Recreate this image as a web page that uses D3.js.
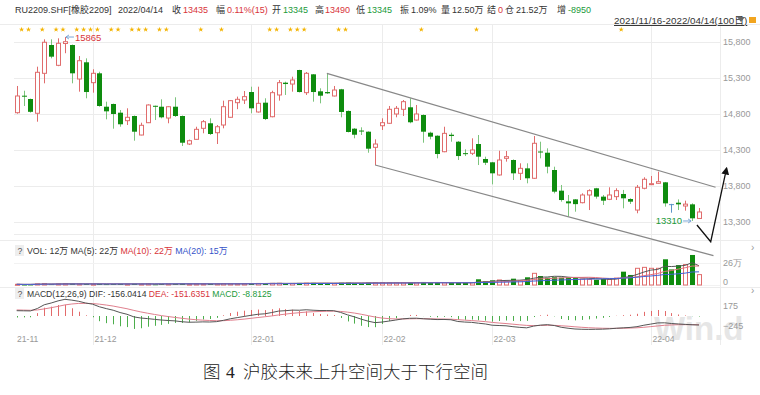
<!DOCTYPE html>
<html>
<head>
<meta charset="utf-8">
<script src="https://cdn.jsdelivr.net/npm/d3@7"></script>
<style>
  body { margin: 0; background: #fff; }
  svg { display: block; font-family: "Liberation Sans", "Noto Sans CJK SC", sans-serif; }
</style>
</head>
<body>
<svg id="chart" width="760" height="395"></svg>
<script>
// ---- Data ----
const opens = [14814,15050,15004,14806,15361,15754,15472,15775,15754,15282,15514,15231,15361,14897,14935,14814,14703,14768,14504,14675,
  14910,14897,14740,14897,14768,14379,14444,14597,14667,14536,14643,14750,14953,14990,15101,14824,14953,14758,15060,15231,
  15212,15407,15092,15347,15111,15101,15046,15139,14838,14592,14566,14550,14333,14633,14667,14796,14861,14889,14712,14782,
  14536,14494,14272,14508,14411,14252,14250,14379,14171,14125,13949,14180,14157,13972,14041,13903,14275,14258,14018,13731,
  13583,13610,13564,13671,13764,13648,13611,13648,13685,13615,13462,13764,13820,13833,13847,13544,13564,13518,13541,13345];
const highs = [15185,15119,15010,15453,15833,15833,15847,15865,15760,15601,15569,15417,15383,14967,14940,14851,14875,14775,14675,14930,
  14912,15000,14905,15028,14775,14440,14619,14712,14736,14643,14981,14990,15037,15115,15175,15175,15014,15119,15268,15245,
  15314,15410,15379,15350,15153,15361,15185,15145,14845,14600,14611,14555,14444,14736,14907,14907,14990,15014,14921,14790,
  14550,14500,14619,14536,14420,14305,14458,14504,14203,14130,14286,14282,14165,14111,14111,14490,14411,14319,14064,13810,
  13671,13615,13694,13750,13770,13671,13778,13764,13741,13625,13810,13917,13935,13995,13852,13548,13610,13592,13555,13490];
const lows = [14800,14907,14815,14689,15222,15569,15460,15640,15222,15106,15014,15092,14897,14722,14592,14619,14643,14425,14500,14670,
  14712,14736,14667,14755,14351,14365,14440,14528,14504,14379,14597,14745,14863,14935,14806,14815,14712,14750,14981,15060,
  15106,15095,15060,14967,14944,15075,15040,14750,14540,14458,14504,14258,14087,14574,14660,14750,14768,14667,14705,14397,
  14444,14180,14265,14411,14157,14212,14226,14087,14087,13819,13940,14134,13879,13879,13833,13895,14180,13972,13694,13578,
  13369,13439,13555,13462,13620,13532,13600,13601,13486,13546,13417,13750,13815,13828,13509,13425,13462,13453,13310,13345];
const closes = [15046,15040,14826,15375,15792,15592,15778,15800,15361,15536,15101,15361,14907,14833,14796,14653,14750,14550,14639,14921,
  14903,14750,14897,14768,14397,14425,14583,14689,14518,14619,14897,14981,15000,15037,14875,14944,14726,15092,15231,15212,
  15268,15101,15361,15101,15050,15083,15129,14824,14546,14508,14562,14314,14379,14675,14861,14875,14967,14681,14796,14550,
  14481,14240,14527,14490,14212,14248,14296,14203,14119,13972,14157,14203,13972,14041,13903,14389,14270,14064,13717,13601,
  13555,13544,13671,13731,13648,13592,13671,13731,13625,13578,13778,13889,13828,13856,13555,13544,13541,13544,13347,13435];
// volume, 万手
const volumes = [0.8,0.6,0.7,1.3,1.6,1.1,1.2,1.5,1.6,1.2,1.3,
  1.0,1.4,1.1,1.2,1.3,1.0,1.5,1.1,1.4,0.9,1.3,1.2,1.4,1.8,1.0,1.3,1.2,1.5,1.3,1.6,1.4,1.3,1.5,
  2.0,1.8,2.1,1.9,2.0,1.6,1.8,2.4,2.1,2.5,2.0,1.9,1.8,2.6,2.8,2.3,1.9,2.7,2.6,
  2.7,2.5,2.4,2.6,3.0,2.5,3.5,2.6,3.0,2.5,2.4,3.0,2.3,2.6,
  6.6,4.3,5.4,5.8,4.3,7.3,5.0,8.9,13.5,10.4,8.5,9.0,8.5,9.0,8.0,7.0,6.5,6.0,7.0,6.5,8.0,15.4,11.6,
  19.3,20.4,19.3,19.3,29.7,18.0,23.0,23.6,34.7,12.0];
const difs = [92,90,88,130,195,225,262,289,275,255,225,205,160,128,100,60,30,-15,-35,-45,
  -58,-70,-78,-85,-100,-108,-106,-102,-104,-98,-75,-48,-28,-8,12,30,38,60,85,92,
  102,100,108,100,95,95,92,62,20,-15,-55,-90,-115,-105,-88,-70,-50,-40,-38,-48,
  -55,-62,-60,-65,-95,-105,-110,-125,-138,-160,-165,-170,-185,-197,-205,-175,-158,-150,-165,-195,
  -212,-225,-230,-232,-230,-228,-222,-212,-205,-198,-185,-160,-140,-120,-118,-130,-138,-145,-152,-156.0414];
const deas = [105,102,99,105,123,144,167,192,208,218,219,216,205,190,172,149,126,97,71,48,
  27,7,-10,-25,-40,-54,-64,-72,-78,-82,-81,-74,-65,-54,-40,-26,-13,1,18,33,
  47,57,68,74,78,82,84,79,67,51,30,6,-18,-36,-46,-51,-51,-49,-47,-47,
  -48,-51,-53,-55,-63,-72,-79,-88,-98,-111,-122,-131,-142,-153,-163,-166,-164,-161,-162,-169,
  -177,-187,-196,-203,-208,-212,-214,-214,-212,-209,-204,-196,-184,-172,-161,-155,-151,-150,-150,-151.6351];
const macdBars = [-26,-24,-22,50,144,162,190,194,134,74,12,-22,-90,-124,-144,-178,-192,-224,-212,-186,
  -170,-154,-136,-120,-120,-108,-84,-60,-52,-32,12,52,74,92,104,112,102,118,134,118,
  110,86,80,52,34,26,16,-34,-94,-132,-170,-192,-194,-138,-84,-38,2,18,18,-2,
  -14,-22,-14,-20,-64,-66,-62,-74,-80,-98,-86,-78,-86,-88,-84,-18,12,22,-6,-52,
  -70,-76,-68,-58,-44,-32,-16,4,14,22,38,72,88,104,86,50,26,10,-4,-8.8125];

const monthLabels = ["21-11", "21-12", "22-01", "22-02", "22-03", "22-04"];
const monthStarts = [0, 11, 34, 53, 69, 92];
const priceTicks = [13300, 13800, 14300, 14800, 15300, 15800];
const volTicks = [0, 26];
const volTickLabels = ["0", "26万"];
const macdTicks = [-245, 175];
const starDays = [1,2,4,6,7,9,10,11,12,14,15,17,18,19,21,22,27,30,37,38,40,41,42,47,48,59,67,88];
// drawn lines, as [day, price]
const upperTrend = [[45, 15361], [101.4, 13778]];
const lowerTrend = [[52, 14087], [101.1, 12828]];
const arrowPath = [[98.7, 13254], [100.7, 13022], [103, 14042]];
const highMark = { day: 7, value: 15865 };
const lowMark = { day: 98, value: 13310 };

// ---- Scales ----
const x = d3.scaleLinear().domain([0, 99]).range([16.7, 699]);
const yPrice = d3.scaleLinear().domain([13300, 15800]).range([221.7, 41.7]);
const yVol = d3.scaleLinear().domain([0, 26]).range([285, 262.5]);
const yMacd = d3.scaleLinear().domain([0, 175]).range([316, 305.9]);

const RED = "#e06c6c", GREEN = "#0e8c0e", GREEN_WICK = "#7cc47c", FLAT = "#5b93c7";
const days = d3.range(closes.length);
const dir = i => closes[i] > opens[i] ? "up" : (closes[i] < opens[i] ? "down" : "flat");
const px = i => Math.round(x(i)) + 0.5;

const svg = d3.select("#chart");

// ---- frame / grid ----
const grid = svg.append("g").attr("stroke", "#ececec").attr("stroke-width", 1);
grid.append("line").attr("x1", 0).attr("x2", 760).attr("y1", 24.5).attr("y2", 24.5);
grid.append("line").attr("x1", 0).attr("x2", 760).attr("y1", 240.5).attr("y2", 240.5);
grid.append("line").attr("x1", 0).attr("x2", 760).attr("y1", 287.5).attr("y2", 287.5);
grid.append("line").attr("x1", 720.5).attr("x2", 720.5).attr("y1", 25).attr("y2", 345);
grid.selectAll(".hg").data(priceTicks).join("line")
  .attr("x1", 14).attr("x2", 720)
  .attr("y1", d => Math.round(yPrice(d)) + 0.5).attr("y2", d => Math.round(yPrice(d)) + 0.5);
grid.append("line").attr("x1", 14).attr("x2", 720).attr("y1", 234.5).attr("y2", 234.5);
grid.selectAll(".vg").data(monthStarts.slice(1)).join("line")
  .attr("x1", d => px(d)).attr("x2", d => px(d)).attr("y1", 25).attr("y2", 345);
grid.selectAll(".vt").data(volTicks).join("line")
  .attr("x1", 14).attr("x2", 720)
  .attr("y1", d => Math.round(yVol(d)) + 0.5).attr("y2", d => Math.round(yVol(d)) + 0.5)
  .attr("stroke", "#f2f2f2");

// watermark
svg.append("text").attr("x", 654).attr("y", 340).attr("font-size", 33).attr("font-weight", "bold")
  .attr("fill", "#e6e6e6").text("Win.d");

// ---- header ----
const header = svg.append("text").attr("y", 13).attr("font-size", 9).attr("fill", "#333");
[
  ["RU2209.SHF[橡胶2209]", 15, "#333"], ["2022/04/14", 118, "#333"],
  ["收", 172, "#333"], ["13435", 183, "#d8343a"],
  ["幅", 216, "#333"], ["0.11%(15)", 227, "#d8343a"],
  ["开", 272, "#333"], ["13345", 283, "#1b9a3a"],
  ["高", 315, "#333"], ["13490", 325, "#d8343a"],
  ["低", 356, "#333"], ["13345", 367, "#1b9a3a"],
  ["振", 400, "#333"], ["1.09%", 411, "#333"],
  ["量", 441, "#333"], ["12.50万", 452, "#333"],
  ["结", 487, "#333"], ["0", 498, "#d8343a"],
  ["仓", 505, "#333"], ["21.52万", 516, "#333"],
  ["增", 557, "#333"], ["-8950", 568, "#1b9a3a"]
].forEach(([t, xx, c]) => header.append("tspan").attr("x", xx).attr("fill", c).text(t));

svg.append("text").attr("x", 614).attr("y", 24).attr("font-size", 9.8).attr("fill", "#333")
  .attr("text-decoration", "underline").text("2021/11/16-2022/04/14(100日)");
svg.append("path").attr("d", "M737,17 L745,17 L741,22 Z").attr("fill", "#666");
svg.append("rect").attr("x", 749).attr("y", 17).attr("width", 7).attr("height", 6).attr("fill", "#f2a51f");

// stars
svg.append("g").selectAll("path").data(starDays).join("path")
  .attr("transform", d => `translate(${x(d) - 2},29.5)`)
  .attr("d", d3.symbol(d3.symbolStar, 9))
  .attr("fill", "#f3b300");

// ---- price axis ----
const priceAxis = svg.append("g").attr("transform", "translate(720,0)")
  .call(d3.axisRight(yPrice).tickValues(priceTicks).tickSize(0).tickPadding(3));
priceAxis.select(".domain").remove();
priceAxis.selectAll("text").attr("font-size", 9).attr("fill", "#999")
  .attr("font-family", "'Liberation Sans', sans-serif");

// ---- candles ----
const candles = svg.append("g");
candles.selectAll(".wick").data(days).join("line")
  .attr("x1", px).attr("x2", px)
  .attr("y1", i => yPrice(highs[i])).attr("y2", i => yPrice(lows[i]))
  .attr("stroke", i => dir(i) === "up" ? RED : (dir(i) === "down" ? GREEN_WICK : FLAT))
  .attr("stroke-width", 1);
candles.selectAll(".body").data(days).join("rect")
  .attr("x", i => dir(i) === "up" ? Math.round(x(i)) - 1.5 : Math.round(x(i)) - 2)
  .attr("width", i => dir(i) === "up" ? 4 : 5)
  .attr("y", i => yPrice(Math.max(opens[i], closes[i])))
  .attr("height", i => Math.max(1, Math.abs(yPrice(opens[i]) - yPrice(closes[i]))))
  .attr("fill", i => dir(i) === "up" ? "#fff" : (dir(i) === "down" ? GREEN : FLAT))
  .attr("stroke", i => dir(i) === "up" ? RED : "none")
  .attr("stroke-width", 1);

// high / low marks
const hx = x(highMark.day), hy = yPrice(highMark.value);
svg.append("path").attr("d", `M${hx + 1},${hy} L${hx + 9},${hy} M${hx + 1},${hy} l3,-2 M${hx + 1},${hy} l3,2`)
  .attr("stroke", "#7aa7d6").attr("fill", "none");
svg.append("text").attr("x", hx + 10).attr("y", hy + 3.5).attr("font-size", 9.5).attr("fill", "#d8343a").text(highMark.value);
const lx = x(lowMark.day), ly = yPrice(lowMark.value);
svg.append("path").attr("d", `M${lx - 9},${ly} L${lx - 1},${ly} l-3,-2 M${lx - 1},${ly} l-3,2`)
  .attr("stroke", "#7aa7d6").attr("fill", "none");
svg.append("text").attr("x", lx - 10).attr("y", ly + 3.5).attr("text-anchor", "end")
  .attr("font-size", 9.5).attr("fill", "#1b9a3a").text(lowMark.value);

// trend channel + arrow
const trendLine = d3.line().x(d => x(d[0])).y(d => yPrice(d[1]));
svg.append("path").attr("d", trendLine(upperTrend)).attr("stroke", "#888").attr("stroke-width", 1.2).attr("fill", "none");
svg.append("path").attr("d", trendLine(lowerTrend)).attr("stroke", "#888").attr("stroke-width", 1.2).attr("fill", "none");
svg.append("defs").append("marker").attr("id", "head").attr("viewBox", "0 0 10 10")
  .attr("refX", 8).attr("refY", 5).attr("markerWidth", 6).attr("markerHeight", 6).attr("orient", "auto")
  .append("path").attr("d", "M0,0 L10,5 L0,10 Z").attr("fill", "#111");
svg.append("path").attr("d", trendLine(arrowPath)).attr("stroke", "#111").attr("stroke-width", 1.3)
  .attr("fill", "none").attr("marker-end", "url(#head)");

// ---- volume panel ----
svg.append("rect").attr("x", 15).attr("y", 245).attr("width", 9).attr("height", 11).attr("fill", "#eeeeee");
svg.append("text").attr("x", 17.5).attr("y", 253.5).attr("font-size", 8.8).attr("fill", "#555").text("?");
const volHead = svg.append("text").attr("x", 27).attr("y", 253.5).attr("font-size", 8.8).attr("fill", "#333");
[["VOL: 12万 ", "#333"], ["MA(5): 22万 ", "#333"], ["MA(10): 22万 ", "#d8343a"], ["MA(20): 15万", "#3553c9"]]
  .forEach(([t, c]) => volHead.append("tspan").attr("fill", c).text(t));
svg.append("text").attr("x", 751).attr("y", 251).attr("font-size", 10).attr("fill", "#999").text("›");

const vols = svg.append("g");
vols.selectAll("rect").data(days).join("rect")
  .attr("x", i => dir(i) === "up" ? Math.round(x(i)) - 1.5 : Math.round(x(i)) - 2)
  .attr("width", i => dir(i) === "up" ? 4 : 5)
  .attr("y", i => yVol(volumes[i]))
  .attr("height", i => Math.max(1, yVol(0) - yVol(volumes[i])))
  .attr("fill", i => dir(i) === "up" ? "#fff" : GREEN)
  .attr("stroke", i => dir(i) === "up" ? RED : "none");

// moving averages of volume
const maOf = n => days.map(i => d3.mean(volumes.slice(Math.max(0, i - n + 1), i + 1)));
const volLine = d3.line().x((d, i) => x(i)).y(d => yVol(d));
[[5, "#555"], [10, "#e0707e"], [20, "#3f62d6"]].forEach(([n, c]) => {
  svg.append("path").attr("d", volLine(maOf(n))).attr("stroke", c).attr("stroke-width", 1).attr("fill", "none");
});

const volAxis = svg.append("g").attr("transform", "translate(720,0)")
  .call(d3.axisRight(yVol).tickValues(volTicks).tickSize(0).tickPadding(3)
    .tickFormat((d, i) => volTickLabels[i]));
volAxis.select(".domain").remove();
volAxis.selectAll("text").attr("font-size", 9).attr("fill", "#999");
volAxis.selectAll(".tick").filter(d => d === 0).attr("transform", "translate(0,282)");

// ---- MACD panel ----
svg.append("rect").attr("x", 15).attr("y", 288).attr("width", 9).attr("height", 11).attr("fill", "#eeeeee");
svg.append("text").attr("x", 17.5).attr("y", 296.5).attr("font-size", 8.8).attr("fill", "#555").text("?");
const macdHead = svg.append("text").attr("x", 27).attr("y", 296.5).attr("font-size", 8.6).attr("fill", "#333");
[["MACD(12,26,9) DIF: -156.0414 ", "#333"], ["DEA: -151.6351 ", "#d8343a"], ["MACD: -8.8125", "#1b9a3a"]]
  .forEach(([t, c]) => macdHead.append("tspan").attr("fill", c).text(t));
svg.append("text").attr("x", 751).attr("y", 294).attr("font-size", 10).attr("fill", "#999").text("›");

svg.append("g").selectAll("line").data(days).join("line")
  .attr("x1", px).attr("x2", px)
  .attr("y1", yMacd(0)).attr("y2", i => yMacd(macdBars[i]))
  .attr("stroke", i => macdBars[i] >= 0 ? "#e36a6a" : "#4cae4c").attr("stroke-width", 1);

const macdLine = d3.line().x((d, i) => x(i)).y(d => yMacd(d));
svg.append("path").attr("d", macdLine(deas)).attr("stroke", "#e0808e").attr("stroke-width", 1).attr("fill", "none");
svg.append("path").attr("d", macdLine(difs)).attr("stroke", "#555").attr("stroke-width", 1).attr("fill", "none");

const macdAxis = svg.append("g").attr("transform", "translate(720,0)")
  .call(d3.axisRight(yMacd).tickValues(macdTicks).tickSize(0).tickPadding(3));
macdAxis.select(".domain").remove();
macdAxis.selectAll("text").attr("font-size", 9).attr("fill", "#999");
macdAxis.selectAll(".tick").attr("transform", d => `translate(0,${Math.min(yMacd(d), 326)})`);

// ---- date axis ----
svg.append("g").selectAll("text").data(monthStarts).join("text")
  .attr("x", (d, i) => i === 0 ? 17 : px(d) + 1)
  .attr("y", 342).attr("font-size", 8.6).attr("fill", "#999")
  .text((d, i) => monthLabels[i]);

// ---- caption ----
const cap = svg.append("text").attr("y", 378).attr("font-size", 17.5).attr("fill", "#222")
  .attr("font-family", "'Liberation Serif', 'Noto Sans CJK SC', serif").attr("font-weight", 300);
cap.append("tspan").attr("x", 203).text("图");
cap.append("tspan").attr("x", 226).text("4");
cap.append("tspan").attr("x", 243).text("沪胶未来上升空间大于下行空间");
</script>
</body>
</html>
